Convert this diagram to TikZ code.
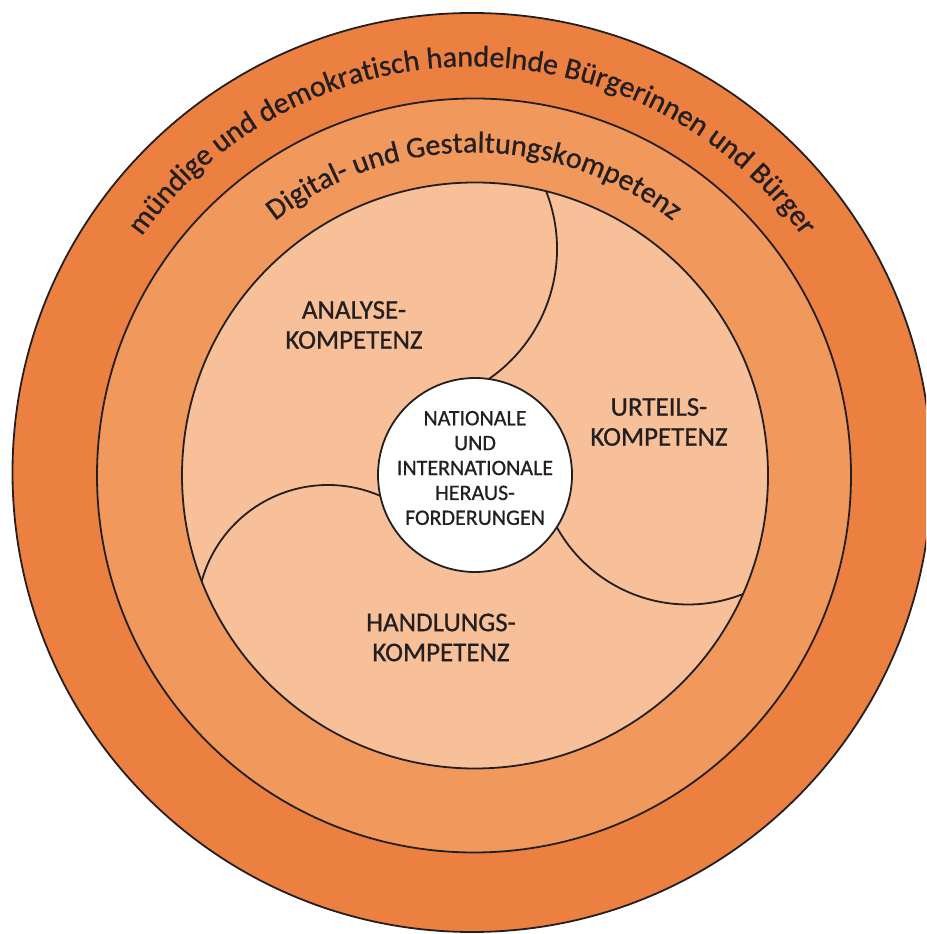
\documentclass[tikz,border=0pt]{standalone}
\usepackage{fontspec}
\setmainfont{Carlito}[FakeBold=0.7]
\usetikzlibrary{decorations.text}
\definecolor{ringouter}{RGB}{236,128,64}
\definecolor{ringmid}{RGB}{241,153,92}
\definecolor{ringinner}{RGB}{248,192,152}
\definecolor{ink}{RGB}{35,31,32}
\newcommand{\curvefont}{\fontsize{30}{30}\selectfont\color{ink}}
\begin{document}
\begin{tikzpicture}[x=1pt,y=1pt,
  ring/.style={draw=ink, line width=1.8pt},
  swirl/.style={draw=ink, line width=1.8pt},
  area/.style={text=ink, align=center, font=\fontsize{27}{30}\selectfont},
  hub/.style={circle, draw=ink, line width=1.8pt, fill=white, minimum size=194pt, inner sep=0pt},
  hubtext/.style={text=ink, align=center, font=\fontsize{22}{24.9}\selectfont}]
\useasboundingbox (0,0) rectangle (926,934);
\clip (0,0) rectangle (926,934);

% ring centres
\coordinate (co) at (472,461.5);
\coordinate (cm) at (474,458.5);
\coordinate (ci) at (475,458.5);

% three nested discs
\draw[ring, fill=ringouter] (co) circle[radius=459.5];
\draw[ring, fill=ringmid]   (cm) circle[radius=377];
\draw[ring, fill=ringinner] (ci) circle[radius=293];

% swirl dividers inside the inner disc
\begin{scope}
  \clip (ci) circle[radius=293];
  \draw[swirl] (399,685) ++(28:158) arc[start angle=28, end angle=-60, radius=158];
  \draw[swirl] (688,479.5) ++(203:150) arc[start angle=203, end angle=298, radius=150];
  \draw[swirl] (328,318) ++(60:131) arc[start angle=60, end angle=172, radius=131];
\end{scope}

% hub
\node[hub] (hub) at (475,459) {};
\node[hubtext] (hubtxt) at ([yshift=7pt]hub.center)
  {NATIONALE\\UND\\INTERNATIONALE\\HERAUS-\\FORDERUNGEN};

% competence areas
\node[area] (analyse) at (354,609) {ANALYSE-\\KOMPETENZ};
\node[area] (urteil)  at (659,512) {URTEILS-\\KOMPETENZ};
\node[area] (handlung) at (441,296.5) {HANDLUNGS-\\KOMPETENZ};

% curved ring captions
\path[decorate, decoration={text along path, text align=center,
    text={|\curvefont|mündige und demokratisch handelnde Bürgerinnen und Bürger}}]
  (co) ++(170:406) arc[start angle=170, end angle=10, radius=406];
\path[decorate, decoration={text along path, text align=center,
    text={|\curvefont|Digital- und Gestaltungskompetenz}}]
  (cm) ++(170:323) arc[start angle=170, end angle=10, radius=323];
\end{tikzpicture}
\end{document}
